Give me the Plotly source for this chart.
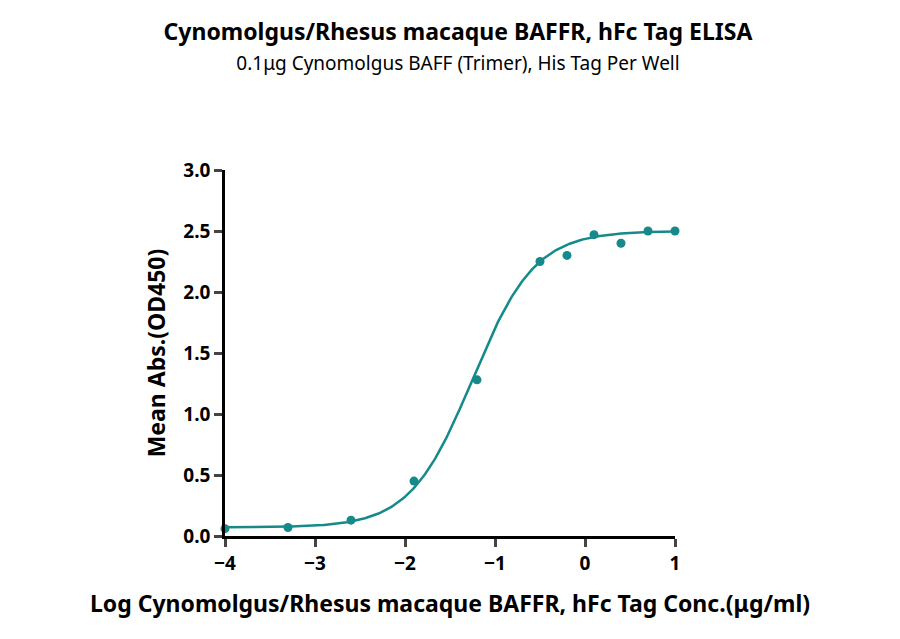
import numpy as np
import plotly.graph_objects as go

# Measured points
log_conc = [-4.0, -3.3, -2.6, -1.9, -1.2, -0.5, -0.2, 0.1, 0.4, 0.7, 1.0]
od450 = [0.06, 0.07, 0.13, 0.45, 1.28, 2.25, 2.30, 2.47, 2.40, 2.50, 2.50]

# 4PL fit parameters
BOTTOM, TOP, LOG_EC50, HILL = 0.07, 2.50, -1.25, 1.25

TEAL = "#168a8a"

xs = np.linspace(-4, 1, 300)
fit = BOTTOM + (TOP - BOTTOM) / (1 + 10 ** (HILL * (LOG_EC50 - xs)))

fig = go.Figure()
fig.add_trace(go.Scatter(x=xs, y=fit, mode="lines",
                         line=dict(color=TEAL, width=2.5), cliponaxis=False))
fig.add_trace(go.Scatter(x=log_conc, y=od450, mode="markers",
                         marker=dict(color=TEAL, size=9), cliponaxis=False))

tickfont = dict(size=19, family="Noto Sans", weight="bold", color="black")

fig.update_layout(
    width=900, height=639, showlegend=False,
    plot_bgcolor="white", paper_bgcolor="white",
    font=dict(family="Noto Sans", color="black"),
    margin=dict(l=217, r=233, t=162, b=111),
    title=dict(
        text="<b>Cynomolgus/Rhesus macaque BAFFR, hFc Tag ELISA</b><br>"
             "<span style='font-size:19px'>0.1μg Cynomolgus BAFF (Trimer), His Tag Per Well</span>",
        x=0.5, xanchor="center", y=0.95, yanchor="top", font=dict(size=23)),
    xaxis=dict(range=[-4, 1], tickvals=[-4, -3, -2, -1, 0, 1],
               showline=True, linecolor="black", linewidth=2.5,
               ticks="outside", ticklen=8, tickwidth=2.5, showgrid=False, zeroline=False,
               tickfont=tickfont,
               title=dict(text="<b>Log Cynomolgus/Rhesus macaque BAFFR, hFc Tag Conc.(μg/ml)</b>",
                          font=dict(size=23), standoff=22)),
    yaxis=dict(range=[0, 3], tickvals=[0, 0.5, 1, 1.5, 2, 2.5, 3], tickformat=".1f",
               showline=True, linecolor="black", linewidth=2.5,
               ticks="outside", ticklen=8, tickwidth=2.5, showgrid=False, zeroline=False,
               tickfont=tickfont,
               title=dict(text="<b>Mean Abs.(OD450)</b>", font=dict(size=23), standoff=12)),
)

fig.write_html("out.html")
